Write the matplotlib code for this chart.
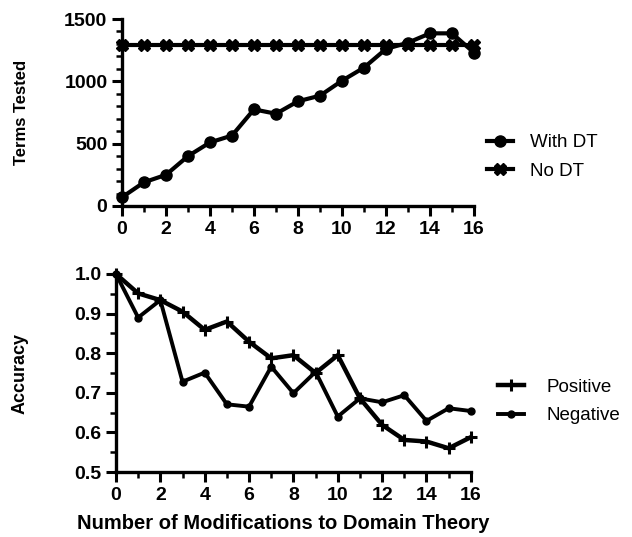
import matplotlib
matplotlib.use("Agg")
import matplotlib.pyplot as plt
from matplotlib.ticker import MultipleLocator

plt.rcParams['font.family'] = ['Liberation Sans', 'DejaVu Sans']

# data
mods = list(range(17))
with_dt = [70, 190, 250, 400, 510, 565, 775, 740, 840, 885, 1005, 1110, 1260, 1310, 1385, 1385, 1230]
no_dt = [1290] * 17

positive = [1.0, 0.951, 0.934, 0.905, 0.859, 0.880, 0.829, 0.787, 0.795, 0.750,
            0.795, 0.686, 0.619, 0.581, 0.577, 0.560, 0.588]
negative = [1.0, 0.890, 0.934, 0.728, 0.751, 0.671, 0.665, 0.766, 0.699, 0.753,
            0.640, 0.686, 0.676, 0.694, 0.629, 0.661, 0.654]

fig = plt.figure(figsize=(6.32, 5.37), dpi=100)

def style_axes(ax):
    for s in ['top', 'right']:
        ax.spines[s].set_visible(False)
    for s in ['left', 'bottom']:
        ax.spines[s].set_linewidth(2.4)
    ax.tick_params(which='major', direction='out', length=7, width=2.2, labelsize=14)
    ax.tick_params(which='minor', direction='out', length=4, width=1.8)
    for lab in ax.get_xticklabels() + ax.get_yticklabels():
        lab.set_fontweight('bold')

# top: terms tested
ax1 = fig.add_axes([0.193, 0.6164, 0.557, 0.3482])
ax1.plot(mods, with_dt, color='black', lw=3, marker='o', ms=8, clip_on=False, label='With DT')
ax1.plot(mods, no_dt, color='black', lw=3, marker='X', ms=9, clip_on=False, label='No DT')
ax1.set_xlim(0, 16)
ax1.set_ylim(0, 1500)
ax1.xaxis.set_major_locator(MultipleLocator(2))
ax1.xaxis.set_minor_locator(MultipleLocator(1))
ax1.yaxis.set_major_locator(MultipleLocator(500))
ax1.yaxis.set_minor_locator(MultipleLocator(100))
style_axes(ax1)
ax1.set_ylabel('Terms Tested', fontsize=12, fontweight='bold')
ax1.yaxis.set_label_coords(-0.264, 0.5)
ax1.legend(loc='center left', bbox_to_anchor=(0.7706, 0.7076), bbox_transform=fig.transFigure,
           frameon=False, borderpad=0, borderaxespad=0, handlelength=1.4, handletextpad=0.9,
           labelspacing=0.6, fontsize=13.5)

# bottom: accuracy
ax2 = fig.add_axes([0.1835, 0.121, 0.5615, 0.3688])
ax2.plot(mods, positive, color='black', lw=3.2, marker='+', ms=9, mew=2.2, clip_on=False, label='Positive')
ax2.plot(mods, negative, color='black', lw=2.8, marker='o', ms=5, clip_on=False, label='Negative')
ax2.set_xlim(0, 16)
ax2.set_ylim(0.5, 1.0)
ax2.xaxis.set_major_locator(MultipleLocator(2))
ax2.xaxis.set_minor_locator(MultipleLocator(1))
ax2.yaxis.set_major_locator(MultipleLocator(0.1))
ax2.yaxis.set_minor_locator(MultipleLocator(0.05))
style_axes(ax2)
ax2.set_ylabel('Accuracy', fontsize=13, fontweight='bold')
ax2.yaxis.set_label_coords(-0.245, 0.5)
ax2.set_xlabel('Number of Modifications to Domain Theory', fontsize=14.5, fontweight='bold')
ax2.xaxis.set_label_coords(0.472, -0.212)
ax2.legend(loc='center left', bbox_to_anchor=(0.788, 0.2523), bbox_transform=fig.transFigure,
           frameon=False, borderpad=0, borderaxespad=0, handlelength=1.4, handletextpad=1.2,
           labelspacing=0.6, fontsize=13.5)

plt.savefig('out.png', dpi=100)
